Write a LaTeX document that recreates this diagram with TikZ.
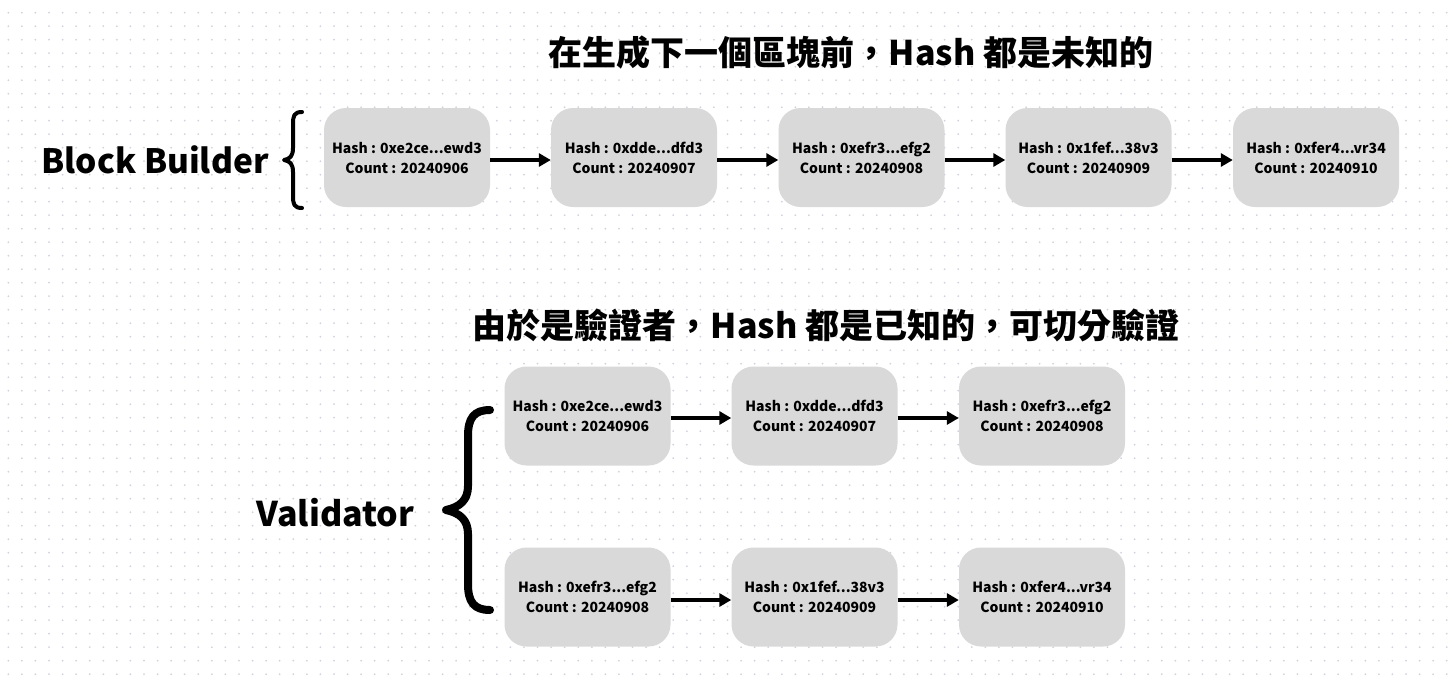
\documentclass[tikz,border=0pt]{standalone}
\usepackage{fontspec}
\setmainfont{Noto Sans CJK TC}
\usetikzlibrary{arrows.meta}
\definecolor{boxgray}{HTML}{D9D9D9}
\definecolor{dotc}{HTML}{D2D2DC}
\tikzset{
  blk/.style={draw=none, fill=boxgray, rounded corners=22pt, minimum width=166pt, minimum height=99pt,
    align=center, font=\fontsize{14}{20}\selectfont\bfseries, inner sep=0pt},
  arr/.style={line width=3.2pt, -{Triangle[length=12pt,width=13pt]}},
  ttl/.style={font=\fontsize{34}{38}\selectfont\bfseries, inner sep=0pt},
  lbl/.style={font=\fontsize{33.5}{40}\selectfont\bfseries, inner sep=0pt},
  brace/.style={line cap=round, line join=round, draw=black}
}
\begin{document}
\begin{tikzpicture}[x=1pt,y=-1pt]
\useasboundingbox (0,0) rectangle (1448,681);
\fill[white] (0,0) rectangle (1448,681);
% dot grid
\foreach \i in {0,...,106} {
  \foreach \j in {0,...,49} {
    \fill[dotc] ({8.3+13.57*\i},{12.7+13.5*\j}) circle (1pt);
  }
}
% titles
\node[ttl] (t1) at (851,53) {在生成下一個區塊前，Hash 都是未知的};
\node[ttl] (t2) at (826,325) {由於是驗證者，Hash 都是已知的，可切分驗證};
% labels
\node[lbl] (bb) at (155,160) {Block Builder};
\node[lbl, font=\fontsize{34}{40}\selectfont\bfseries] (va) at (335.5,513) {Validator};
% braces
\draw[brace, line width=4pt] (302,112) .. controls (294,112) and (293,116) .. (293,124)
  -- (293,148) .. controls (293,156) and (290,159) .. (284,160)
  .. controls (290,161) and (293,164) .. (293,172)
  -- (293,196) .. controls (293,204) and (294,208) .. (302,208);
\draw[brace, line width=8pt] (490,410) .. controls (474,410) and (468,418) .. (468,436)
  -- (468,486) .. controls (468,500) and (460,507) .. (446,510)
  .. controls (460,513) and (468,520) .. (468,534)
  -- (468,584) .. controls (468,602) and (474,610) .. (490,610);
% top row
\node[blk] (a1) at (407,157.5) {Hash : 0xe2ce...ewd3\\Count : 20240906};
\node[blk] (a2) at (634,157.5) {Hash : 0xdde...dfd3\\Count : 20240907};
\node[blk] (a3) at (861.5,157.5) {Hash : 0xefr3...efg2\\Count : 20240908};
\node[blk] (a4) at (1088.5,157.5) {Hash : 0x1fef...38v3\\Count : 20240909};
\node[blk] (a5) at (1316,157.5) {Hash : 0xfer4...vr34\\Count : 20240910};
\draw[arr] ([yshift=-2.5pt]a1.east) -- ([yshift=-2.5pt]a2.west);
\draw[arr] ([yshift=-2.5pt]a2.east) -- ([yshift=-2.5pt]a3.west);
\draw[arr] ([yshift=-2.5pt]a3.east) -- ([yshift=-2.5pt]a4.west);
\draw[arr] ([yshift=-2.5pt]a4.east) -- ([yshift=-2.5pt]a5.west);
% validator rows
\node[blk] (b1) at (587.5,416) {Hash : 0xe2ce...ewd3\\Count : 20240906};
\node[blk] (b2) at (814.5,416) {Hash : 0xdde...dfd3\\Count : 20240907};
\node[blk] (b3) at (1042,416) {Hash : 0xefr3...efg2\\Count : 20240908};
\node[blk] (c1) at (587.5,597) {Hash : 0xefr3...efg2\\Count : 20240908};
\node[blk] (c2) at (814.5,597) {Hash : 0x1fef...38v3\\Count : 20240909};
\node[blk] (c3) at (1042,597) {Hash : 0xfer4...vr34\\Count : 20240910};
\draw[arr] ([yshift=-2pt]b1.east) -- ([yshift=-2pt]b2.west);
\draw[arr] ([yshift=-2pt]b2.east) -- ([yshift=-2pt]b3.west);
\draw[arr] ([yshift=-3pt]c1.east) -- ([yshift=-3pt]c2.west);
\draw[arr] ([yshift=-3pt]c2.east) -- ([yshift=-3pt]c3.west);
\end{tikzpicture}
\end{document}
